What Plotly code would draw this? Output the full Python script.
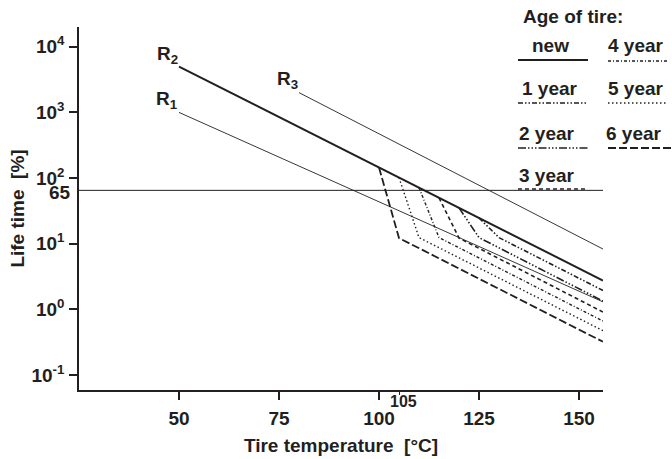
import math
import plotly.graph_objects as go

# ---------------- data ----------------
r_labels = ["R<sub>1</sub>", "R<sub>2</sub>", "R<sub>3</sub>"]
r1_temp = [50, 156]
r1_life = [1000, 1.3]
r2_temp = [50, 156]
r2_life = [5000, 2.75]
r3_temp = [80, 156]
r3_life = [2000, 8.3]

threshold_temp = [25, 156]
threshold_life = [65, 65]

age_labels = ["1 year", "2 year", "3 year", "4 year", "5 year", "6 year"]
break_temp = [125, 120, 115, 110, 105, 100]
break_life = [24.7, 35.2, 50.1, 71.5, 101.8, 145]
knee_temp = [130, 125, 120, 115, 110, 105]
knee_life = [12.4, 12.4, 12.2, 12.4, 12.4, 12.2]
end_temp = [156, 156, 156, 156, 156, 156]
end_life = [1.94, 1.34, 0.91, 0.664, 0.474, 0.321]

x_tickvals = [50, 75, 100, 125, 150]
y_tickvals = [0.1, 1, 10, 100, 1000, 10000]
y_ticktext = ["10<sup>-1</sup>", "10<sup>0</sup>", "10<sup>1</sup>",
              "10<sup>2</sup>", "10<sup>3</sup>", "10<sup>4</sup>"]

# ---------------- styles ----------------
INK = "#231f20"
FONT = "Liberation Sans"
age_dash = ["5px,2px,1.5px,2px,1.5px,2px",
            "8px,2px,1.5px,2px,1.5px,2px,1.5px,2px",
            "4px,3px",
            "3px,2px,1px,2px",
            "1.5px,2.5px",
            "8px,3px"]
age_width = [1.6, 1.6, 1.6, 1.4, 1.4, 1.8]

W, H = 672, 459
L, R, T, B = 79, 69, 27, 69
PW, PH = W - L - R, H - T - B


def px(xp):
    return (xp - L) / PW


def py(yp):
    return (H - B - yp) / PH


fig = go.Figure()

fig.add_trace(go.Scatter(x=threshold_temp, y=threshold_life, mode="lines",
                         line=dict(color=INK, width=1), hoverinfo="skip"))
fig.add_trace(go.Scatter(x=r1_temp, y=r1_life, mode="lines",
                         line=dict(color=INK, width=0.9)))
fig.add_trace(go.Scatter(x=r3_temp, y=r3_life, mode="lines",
                         line=dict(color=INK, width=0.9)))

for i, lab in enumerate(age_labels):
    fig.add_trace(go.Scatter(
        x=[break_temp[i], knee_temp[i], end_temp[i]],
        y=[break_life[i], knee_life[i], end_life[i]],
        mode="lines", name=lab,
        line=dict(color=INK, width=age_width[i], dash=age_dash[i])))

fig.add_trace(go.Scatter(x=r2_temp, y=r2_life, mode="lines", name="new",
                         line=dict(color=INK, width=2)))

bold = dict(family=FONT, size=19, color=INK, weight="bold")


def note(**kw):
    kw.setdefault("xanchor", "center")
    kw.setdefault("yanchor", "middle")
    kw.setdefault("font", bold)
    fig.add_annotation(showarrow=False, **kw)


# curve labels
r_pos = [(47, 3.19), (47, 3.875), (77, 3.494)]
for lab, (xx, yy) in zip(r_labels, r_pos):
    note(x=xx, y=yy, xref="x", yref="y", text=lab)

# 65 label and 105 label
note(x=px(73), y=math.log10(threshold_life[0]) - 0.04, xref="paper", yref="y",
     text="65", xanchor="right")
note(x=106.2, y=py(402), xref="x", yref="paper", text="105",
     font=dict(family=FONT, size=16, color=INK, weight="bold"))

# legend block
note(x=px(573), y=py(17), xref="paper", yref="paper", text="Age of tire:")
leg_items = ["new"] + age_labels
leg_text_pos = [(550, 46), (550, 89), (547, 133), (547, 175),
                (636, 46), (636, 89), (634, 133)]
leg_line_pos = [(518, 588, 60), (518, 588, 103), (518, 588, 148), (518, 588, 189),
                (608, 667, 61), (608, 667, 103), (608, 672, 148)]
leg_dash = ["solid"] + age_dash
leg_width = [2] + age_width
for i, lab in enumerate(leg_items):
    tx, ty = leg_text_pos[i]
    note(x=px(tx), y=py(ty), xref="paper", yref="paper", text=lab)
    x0, x1, yl = leg_line_pos[i]
    fig.add_shape(type="line", xref="paper", yref="paper",
                  x0=px(x0), x1=px(x1), y0=py(yl), y1=py(yl),
                  line=dict(color=INK, width=leg_width[i], dash=leg_dash[i]))

fig.update_layout(
    width=W, height=H,
    margin=dict(l=L, r=R, t=T, b=B, autoexpand=False),
    paper_bgcolor="white", plot_bgcolor="white",
    showlegend=False,
    font=dict(family=FONT, color=INK),
    xaxis=dict(range=[25, 156], showgrid=False, zeroline=False,
               showline=True, linecolor=INK, linewidth=1.5,
               ticks="outside", ticklen=8, tickwidth=1.5, tickcolor=INK,
               tickvals=x_tickvals, tickfont=bold, ticklabelstandoff=2,
               minor=dict(tickvals=[105], ticks="outside", ticklen=3,
                          tickwidth=1, tickcolor=INK),
               title=dict(text="Tire temperature  [°C]", font=bold, standoff=11)),
    yaxis=dict(type="log", range=[-1.228, 4.301], showgrid=False, zeroline=False,
               showline=True, linecolor=INK, linewidth=1.5,
               ticks="outside", ticklen=8, tickwidth=1.5, tickcolor=INK,
               tickvals=y_tickvals, ticktext=y_ticktext, tickfont=bold,
               ticklabelstandoff=1,
               title=dict(text="Life time  [%]", font=bold, standoff=2)),
)

fig.write_html("out.html",
               config={"displayModeBar": False},
               post_script="document.body.style.margin='0';"
                           "document.body.style.overflow='hidden';")
